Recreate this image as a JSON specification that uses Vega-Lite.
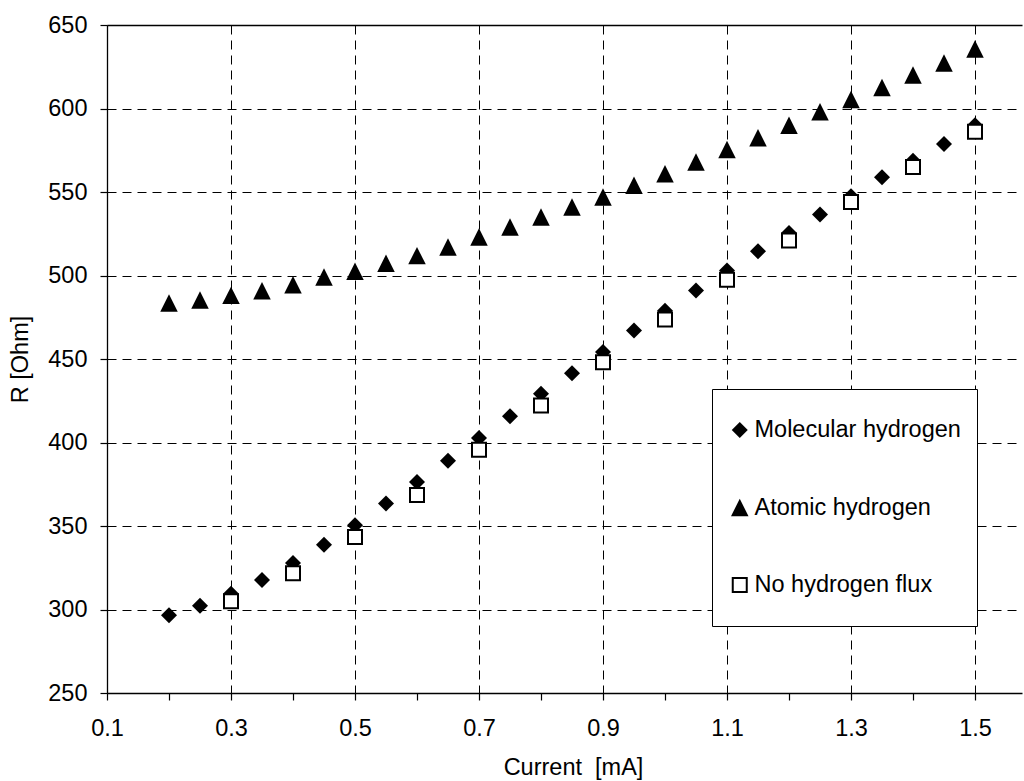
{
  "$schema": "https://vega.github.io/schema/vega-lite/v6.json",
  "autosize": "none",
  "width": 915,
  "height": 668,
  "padding": {"left": 107, "top": 25, "right": 2, "bottom": 88},
  "background": "white",
  "config": {
    "view": {"stroke": null},
    "font": "Liberation Sans",
    "axis": {
      "labelFont": "Liberation Sans",
      "labelFontSize": 23.5,
      "labelColor": "black",
      "titleFont": "Liberation Sans",
      "titleFontSize": 23.5,
      "titleFontWeight": "normal",
      "titleColor": "black",
      "domainColor": "black",
      "domainWidth": 1.3,
      "tickColor": "black",
      "tickWidth": 1.2,
      "tickSize": 7,
      "gridColor": "black",
      "gridWidth": 1,
      "labelFlush": false,
      "labelOverlap": false
    },
    "legend": {
      "orient": "none",
      "legendX": 605,
      "legendY": 364,
      "padding": 16,
      "clipHeight": 50,
      "rowPadding": 27.5,
      "labelOffset": 3,
      "labelFont": "Liberation Sans",
      "labelFontSize": 23.5,
      "labelColor": "black",
      "labelLimit": 400,
      "strokeColor": "black",
      "fillColor": "white",
      "cornerRadius": 0,
      "symbolStrokeColor": "black",
      "symbolOpacity": 1
    }
  },
  "data": {
    "values": [
      {"x": 0.2, "R": 296.5, "series": "Molecular hydrogen"},
      {"x": 0.25, "R": 302.2, "series": "Molecular hydrogen"},
      {"x": 0.3, "R": 309.5, "series": "Molecular hydrogen"},
      {"x": 0.35, "R": 317.6, "series": "Molecular hydrogen"},
      {"x": 0.4, "R": 327.8, "series": "Molecular hydrogen"},
      {"x": 0.45, "R": 338.8, "series": "Molecular hydrogen"},
      {"x": 0.5, "R": 350.4, "series": "Molecular hydrogen"},
      {"x": 0.55, "R": 363.5, "series": "Molecular hydrogen"},
      {"x": 0.6, "R": 376.3, "series": "Molecular hydrogen"},
      {"x": 0.65, "R": 389.1, "series": "Molecular hydrogen"},
      {"x": 0.7, "R": 402.7, "series": "Molecular hydrogen"},
      {"x": 0.75, "R": 415.7, "series": "Molecular hydrogen"},
      {"x": 0.8, "R": 429.2, "series": "Molecular hydrogen"},
      {"x": 0.85, "R": 441.4, "series": "Molecular hydrogen"},
      {"x": 0.9, "R": 454.2, "series": "Molecular hydrogen"},
      {"x": 0.95, "R": 467.1, "series": "Molecular hydrogen"},
      {"x": 1.0, "R": 478.9, "series": "Molecular hydrogen"},
      {"x": 1.05, "R": 491.0, "series": "Molecular hydrogen"},
      {"x": 1.1, "R": 503.0, "series": "Molecular hydrogen"},
      {"x": 1.15, "R": 514.5, "series": "Molecular hydrogen"},
      {"x": 1.2, "R": 525.5, "series": "Molecular hydrogen"},
      {"x": 1.25, "R": 536.5, "series": "Molecular hydrogen"},
      {"x": 1.3, "R": 547.5, "series": "Molecular hydrogen"},
      {"x": 1.35, "R": 558.8, "series": "Molecular hydrogen"},
      {"x": 1.4, "R": 568.7, "series": "Molecular hydrogen"},
      {"x": 1.45, "R": 578.7, "series": "Molecular hydrogen"},
      {"x": 1.5, "R": 589.9, "series": "Molecular hydrogen"},
      {"x": 0.2, "R": 483.5, "series": "Atomic hydrogen"},
      {"x": 0.25, "R": 485.3, "series": "Atomic hydrogen"},
      {"x": 0.3, "R": 488.1, "series": "Atomic hydrogen"},
      {"x": 0.35, "R": 490.9, "series": "Atomic hydrogen"},
      {"x": 0.4, "R": 494.5, "series": "Atomic hydrogen"},
      {"x": 0.45, "R": 499.1, "series": "Atomic hydrogen"},
      {"x": 0.5, "R": 502.5, "series": "Atomic hydrogen"},
      {"x": 0.55, "R": 507.3, "series": "Atomic hydrogen"},
      {"x": 0.6, "R": 511.9, "series": "Atomic hydrogen"},
      {"x": 0.65, "R": 517.0, "series": "Atomic hydrogen"},
      {"x": 0.7, "R": 523.0, "series": "Atomic hydrogen"},
      {"x": 0.75, "R": 529.0, "series": "Atomic hydrogen"},
      {"x": 0.8, "R": 535.0, "series": "Atomic hydrogen"},
      {"x": 0.85, "R": 541.0, "series": "Atomic hydrogen"},
      {"x": 0.9, "R": 547.0, "series": "Atomic hydrogen"},
      {"x": 0.95, "R": 554.0, "series": "Atomic hydrogen"},
      {"x": 1.0, "R": 561.0, "series": "Atomic hydrogen"},
      {"x": 1.05, "R": 568.0, "series": "Atomic hydrogen"},
      {"x": 1.1, "R": 575.5, "series": "Atomic hydrogen"},
      {"x": 1.15, "R": 582.5, "series": "Atomic hydrogen"},
      {"x": 1.2, "R": 590.0, "series": "Atomic hydrogen"},
      {"x": 1.25, "R": 598.0, "series": "Atomic hydrogen"},
      {"x": 1.3, "R": 605.4, "series": "Atomic hydrogen"},
      {"x": 1.35, "R": 612.6, "series": "Atomic hydrogen"},
      {"x": 1.4, "R": 620.0, "series": "Atomic hydrogen"},
      {"x": 1.45, "R": 627.2, "series": "Atomic hydrogen"},
      {"x": 1.5, "R": 635.6, "series": "Atomic hydrogen"},
      {"x": 0.3, "R": 304.9, "series": "No hydrogen flux"},
      {"x": 0.4, "R": 321.7, "series": "No hydrogen flux"},
      {"x": 0.5, "R": 343.4, "series": "No hydrogen flux"},
      {"x": 0.6, "R": 368.6, "series": "No hydrogen flux"},
      {"x": 0.7, "R": 395.6, "series": "No hydrogen flux"},
      {"x": 0.8, "R": 422.2, "series": "No hydrogen flux"},
      {"x": 0.9, "R": 448.0, "series": "No hydrogen flux"},
      {"x": 1.0, "R": 473.7, "series": "No hydrogen flux"},
      {"x": 1.1, "R": 497.5, "series": "No hydrogen flux"},
      {"x": 1.2, "R": 521.0, "series": "No hydrogen flux"},
      {"x": 1.3, "R": 544.0, "series": "No hydrogen flux"},
      {"x": 1.4, "R": 565.0, "series": "No hydrogen flux"},
      {"x": 1.5, "R": 586.1, "series": "No hydrogen flux"}
    ]
  },
  "mark": {"type": "point", "filled": true, "opacity": 1},
  "encoding": {
    "x": {
      "field": "x",
      "type": "quantitative",
      "scale": {"domain": [0.1, 1.5758], "nice": false, "zero": false},
      "axis": {
        "title": "Current \u00a0[mA]",
        "titleX": 466,
        "titlePadding": 16,
        "labelPadding": 16,
        "values": [0.1, 0.2, 0.3, 0.4, 0.5, 0.6, 0.7, 0.8, 0.9, 1.0, 1.1, 1.2, 1.3, 1.4, 1.5],
        "labelExpr": "round(datum.value*10) % 2 == 1 ? format(datum.value, '.1f') : ''",
        "grid": true,
        "gridDash": [9, 6],
        "gridOpacity": {"condition": {"test": "round(datum.value*10) % 2 == 0", "value": 0}, "value": 1}
      }
    },
    "y": {
      "field": "R",
      "type": "quantitative",
      "scale": {"domain": [250, 650], "nice": false, "zero": false},
      "axis": {
        "title": "R [Ohm]",
        "titlePadding": 15,
        "labelPadding": 13,
        "values": [250, 300, 350, 400, 450, 500, 550, 600, 650],
        "grid": true,
        "gridDash": {"condition": {"test": "datum.value == 650", "value": []}, "value": [9, 6]},
        "gridWidth": {"condition": {"test": "datum.value == 650", "value": 1.3}, "value": 1}
      }
    },
    "shape": {
      "field": "series",
      "type": "nominal",
      "title": null,
      "scale": {
        "type": "ordinal",
        "domain": ["Molecular hydrogen", "Atomic hydrogen", "No hydrogen flux"],
        "range": ["diamond", "M0,-1L1,1L-1,1Z", "square"]
      }
    },
    "fill": {
      "field": "series",
      "type": "nominal",
      "title": null,
      "scale": {
        "type": "ordinal",
        "domain": ["Molecular hydrogen", "Atomic hydrogen", "No hydrogen flux"],
        "range": ["black", "black", "white"]
      }
    },
    "stroke": {
      "field": "series",
      "type": "nominal",
      "title": null,
      "scale": {
        "type": "ordinal",
        "domain": ["Molecular hydrogen", "Atomic hydrogen", "No hydrogen flux"],
        "range": ["black", "black", "black"]
      }
    },
    "strokeWidth": {
      "field": "series",
      "type": "nominal",
      "title": null,
      "scale": {
        "type": "ordinal",
        "domain": ["Molecular hydrogen", "Atomic hydrogen", "No hydrogen flux"],
        "range": [0, 0, 2]
      }
    },
    "size": {
      "field": "series",
      "type": "nominal",
      "title": null,
      "scale": {
        "type": "ordinal",
        "domain": ["Molecular hydrogen", "Atomic hydrogen", "No hydrogen flux"],
        "range": [256, 306, 196]
      }
    }
  }
}
